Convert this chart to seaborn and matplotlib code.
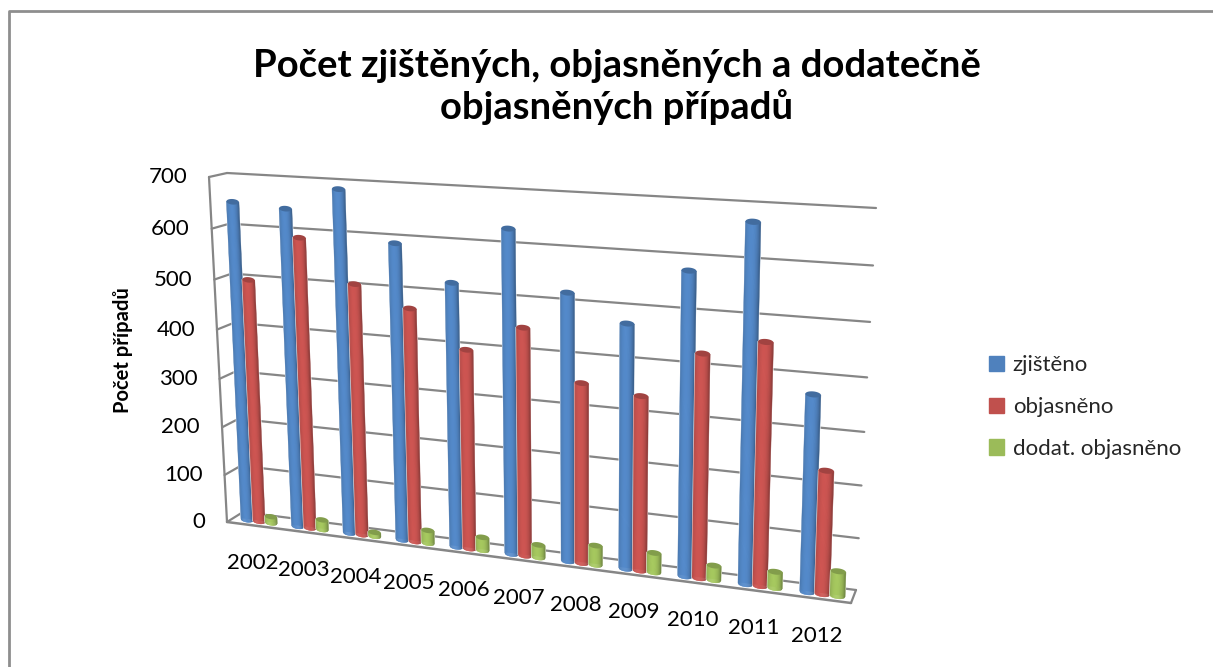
import numpy as np
import pandas as pd
import seaborn as sns
import matplotlib
matplotlib.use("Agg")
import matplotlib.pyplot as plt
from matplotlib.patches import Patch
from matplotlib.transforms import Affine2D, Transform

roky = ["2002", "2003", "2004", "2005", "2006", "2007", "2008", "2009", "2010", "2011", "2012"]
zjisteno = [651, 644, 688, 591, 523, 633, 521, 472, 578, 673, 371]
objasneno = [498, 589, 506, 467, 396, 448, 352, 338, 428, 459, 233]
dodat = [13, 20, 8, 26, 26, 25, 38, 38, 28, 31, 47]
serie = ["zjištěno", "objasněno", "dodat. objasněno"]
barvy = ["#4F81BD", "#C0504D", "#9BBB59"]
osa_y = [0, 100, 200, 300, 400, 500, 600, 700]
titulek = "Počet zjištěných, objasněných a dodatečně\nobjasněných případů"
popisek_y = "Počet případů"

SEDA = "#868686"


class Homografie(Transform):
    # maps (category, value) onto a plane of the 3D box, result in reference pixels
    input_dims = 2
    output_dims = 2

    def __init__(self, levy_dole, pravy_dole, levy_nahore, pravy_nahore):
        super().__init__()
        src = [(-0.5, 0), (10.5, 0), (-0.5, 700), (10.5, 700)]
        dst = [levy_dole, pravy_dole, levy_nahore, pravy_nahore]
        A, b = [], []
        for (x, y), (u, v) in zip(src, dst):
            A.append([x, y, 1, 0, 0, 0, -u * x, -u * y])
            A.append([0, 0, 0, x, y, 1, -v * x, -v * y])
            b += [u, v]
        self.m = np.append(np.linalg.solve(np.array(A, float), np.array(b, float)), 1).reshape(3, 3)

    def transform_non_affine(self, values):
        pts = np.column_stack([values, np.ones(len(values))]) @ self.m.T
        return pts[:, :2] / pts[:, 2:]


# reference pixels -> display
pix = Affine2D().scale(1, -1).translate(0, 667)
plocha_bar = Homografie((234, 518), (854, 598), (218, 176), (868, 213))
plocha_zad = Homografie((243, 512), (856, 590), (227, 173), (876, 208))
plocha_pred = Homografie((227, 522), (851, 603), (209, 177), (871, 222))

sns.set_theme(style="white")
plt.rcParams["font.family"] = ["Lato", "DejaVu Sans"]

fig = plt.figure(figsize=(12.13, 6.67), dpi=100)
ax = fig.add_axes([0, 0, 1, 1])

df = pd.DataFrame({
    "rok": roky * 3,
    "pocet": zjisteno + objasneno + dodat,
    "serie": np.repeat(serie, len(roky)),
})
sns.barplot(data=df, x="rok", y="pocet", hue="serie", hue_order=serie, palette=barvy,
            width=0.72, gap=0, errorbar=None, legend=False, ax=ax, saturation=1,
            transform=plocha_bar + pix, zorder=3)
ax.set_axis_off()

# back wall, left wall and floor
for v in osa_y:
    ax.plot([-0.5, 10.5], [v, v], color=SEDA, lw=1.6, zorder=1, transform=plocha_zad + pix)
    a = plocha_pred.transform([(-0.5, v)])[0]
    b = plocha_zad.transform([(-0.5, v)])[0]
    ax.plot([a[0], b[0]], [a[1], b[1]], color=SEDA, lw=1.6, zorder=1, transform=pix)
ax.plot([-0.5, -0.5], [0, 700], color=SEDA, lw=1.6, zorder=1, transform=plocha_pred + pix)
ax.plot([-0.5, 10.5], [0, 0], color=SEDA, lw=1.8, zorder=2, transform=plocha_pred + pix)
a = plocha_pred.transform([(10.5, 0)])[0]
b = plocha_zad.transform([(10.5, 0)])[0]
ax.plot([a[0], b[0]], [a[1], b[1]], color=SEDA, lw=1.6, zorder=1, transform=pix)


# the round look of the bars: thin strips over each flat seaborn bar
def odstin(barva, k):
    c = np.array(matplotlib.colors.to_rgb(barva))
    return np.clip(c * k, 0, 1)


def svetlo(u):
    return 0.62 + 0.46 * np.clip(1 - ((u + 0.15) / 1.15) ** 2, 0, 1) ** 0.6


RY = 5.5
n_strip = 14
for i, bar in enumerate(ax.patches):
    barva = barvy[i // len(roky)]
    x0, w, h = bar.get_x(), bar.get_width(), bar.get_height()
    zo = 3 + i / 100
    bar.set_zorder(zo)
    okraje = np.linspace(-1, 1, n_strip + 1)
    for u0, u1 in zip(okraje[:-1], okraje[1:]):
        um = (u0 + u1) / 2
        xs = x0 + w * (np.array([u0, u1]) + 1) / 2
        dole = -RY * np.sqrt(np.clip(1 - np.array([u0, u1]) ** 2, 0, 1))
        ax.fill([xs[0], xs[1], xs[1], xs[0]], [dole[0], dole[1], h, h],
                color=odstin(barva, svetlo(um)), lw=0.3, zorder=zo + 0.001,
                transform=plocha_bar + pix)
    t = np.linspace(0, 2 * np.pi, 40)
    ax.fill(x0 + w / 2 + w / 2 * np.cos(t), h + RY * np.sin(t),
            color=odstin(barva, 0.84), lw=0, zorder=zo + 0.002,
            transform=plocha_bar + pix)

# labels
ax.text(617, 87, titulek, transform=pix, ha="center", va="center", fontsize=27.5,
        fontweight="bold", color="black", linespacing=1.22)
ax.text(123, 350, popisek_y, transform=pix, rotation=90, ha="center", va="center",
        fontsize=14.5, fontweight="bold", color="black")
for v in osa_y:
    a = plocha_pred.transform([(-0.5, v)])[0]
    ax.text(a[0] - 22, a[1], str(v), transform=pix, ha="right", va="center", fontsize=16, color="black")
for i, rok in enumerate(roky):
    a = plocha_bar.transform([(i, 0)])[0]
    ax.text(a[0] - 6, a[1] + 42, rok, transform=pix, ha="center", va="center", fontsize=16, color="black")

# chart border, only top and left are inside the picture
ax.plot([8.5, 8.5, 1213], [667, 11, 11], color="#8E8E8E", lw=2, transform=pix, zorder=0)

ruce = [Patch(color=b, label=s) for b, s in zip(barvy, serie)]
ax.legend(handles=ruce, loc="center left", bbox_to_anchor=(982, 407), bbox_transform=pix,
          frameon=False, fontsize=16, handlelength=0.68, handleheight=0.68,
          handletextpad=0.4, labelspacing=0.98, borderpad=0, borderaxespad=0.3)

fig.savefig("out.png", dpi=100)
